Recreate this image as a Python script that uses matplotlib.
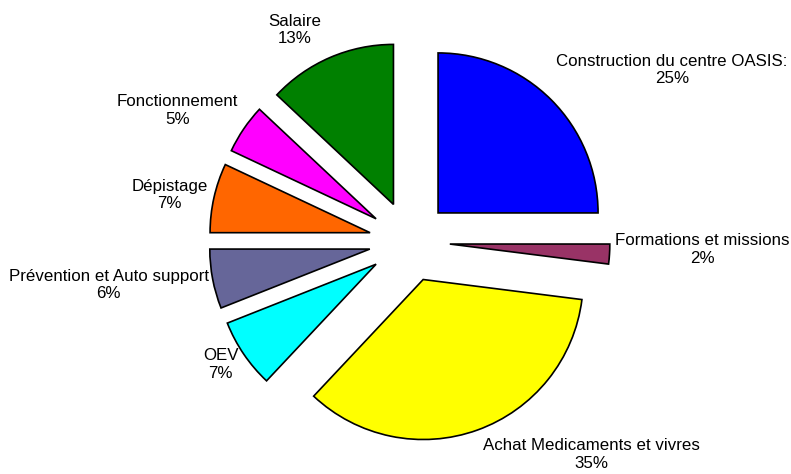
import matplotlib.pyplot as plt

plt.rcParams['font.family'] = ['Liberation Sans', 'DejaVu Sans']

categories = ["Construction du centre OASIS:", "Formations et missions",
              "Achat Medicaments et vivres", "OEV", "Prévention et Auto support",
              "Dépistage", "Fonctionnement", "Salaire"]
shares = [25, 2, 35, 7, 6, 7, 5, 13]
colors = ["#0000FF", "#993366", "#FFFF00", "#00FFFF", "#666699",
          "#FF6600", "#FF00FF", "#008000"]

# label centres, in pie-radius units from the pie centre
label_pos = [(1.64, 1.07), (1.83, -0.05), (1.14, -1.33), (-1.18, -0.77),
             (-1.88, -0.27), (-1.50, 0.29), (-1.45, 0.82), (-0.72, 1.32)]

# pie centre and radius in pixels
cx, cy, r = 409.5, 241.5, 160

fig = plt.figure(figsize=(7.91, 4.74), dpi=100)
ax = fig.add_axes([0, 0, 1, 1])

ax.pie(shares, colors=colors, startangle=90, counterclock=False,
       explode=[0.2525] * len(shares),
       wedgeprops=dict(edgecolor="black", linewidth=1.2))

for name, val, (x, y) in zip(categories, shares, label_pos):
    ax.text(x, y, f"{name}\n{val}%", ha="center", va="center", fontsize=12.2)

ax.set_aspect("equal")
ax.set_xlim(-cx / r, (791 - cx) / r)
ax.set_ylim(-(474 - cy) / r, cy / r)
ax.axis("off")

fig.savefig("out.png", dpi=100)
